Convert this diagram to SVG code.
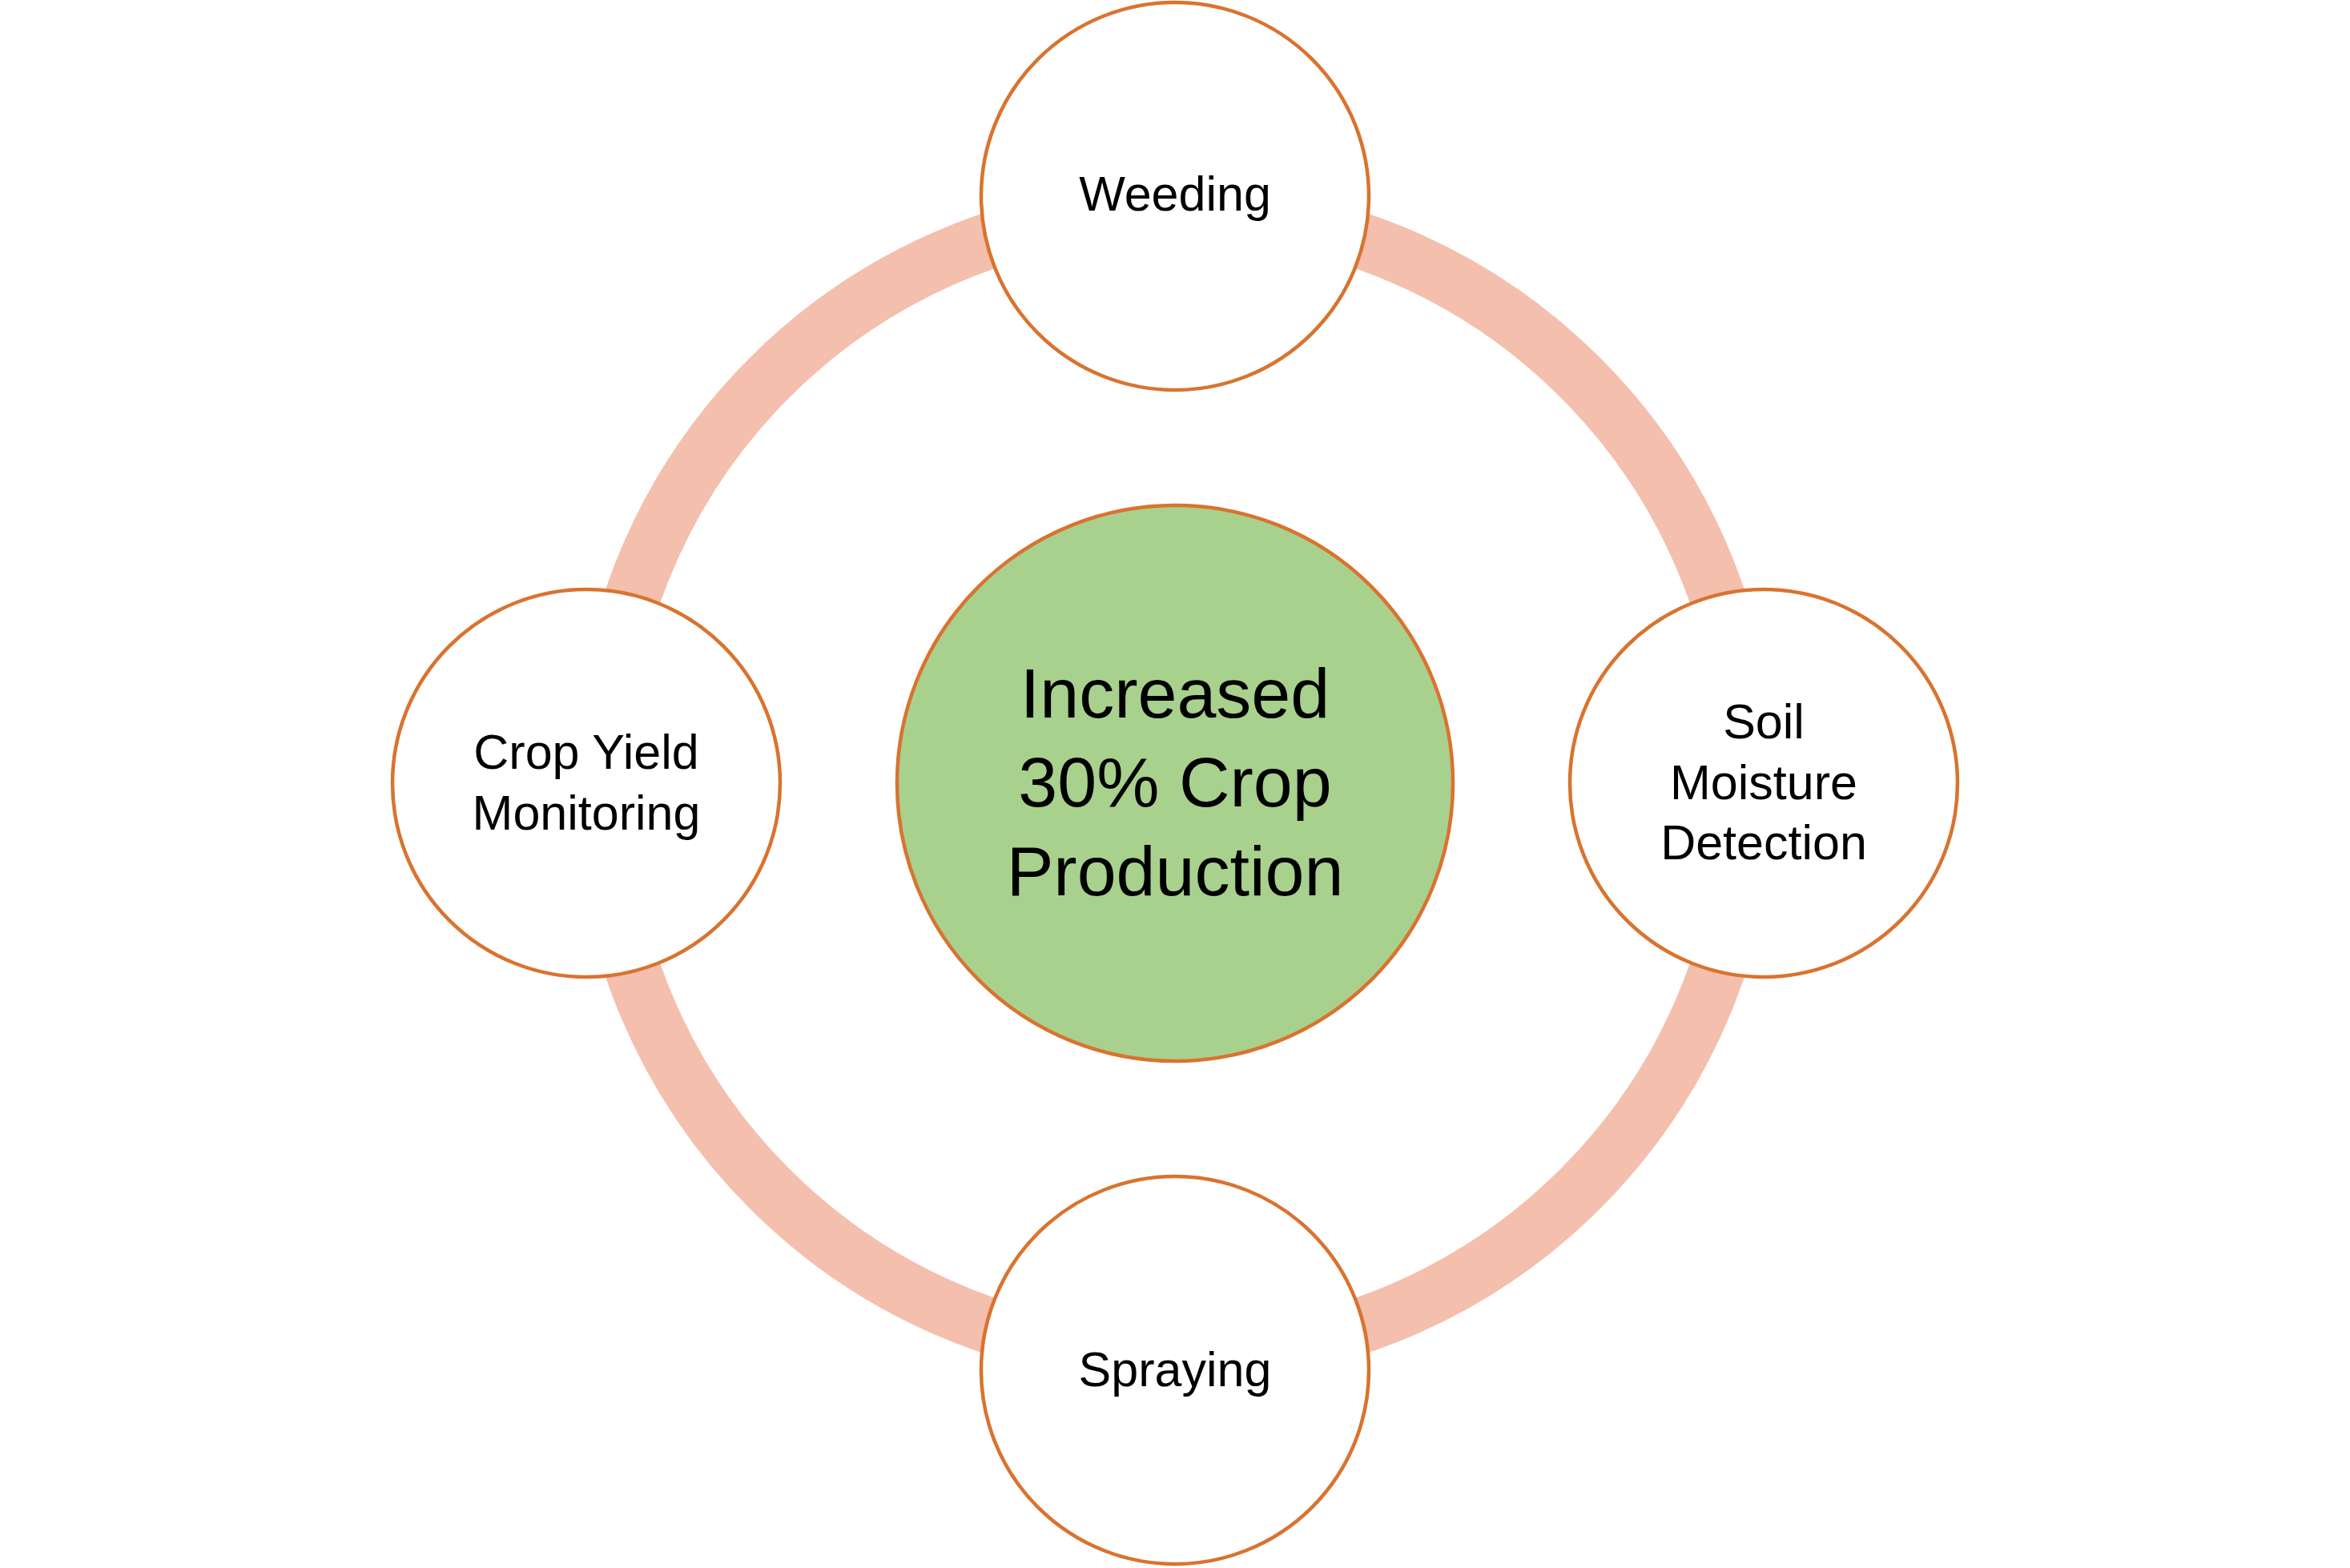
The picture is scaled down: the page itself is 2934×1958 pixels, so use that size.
<svg xmlns="http://www.w3.org/2000/svg" width="2934" height="1958" viewBox="0 0 2934 1958">
<style>
.node{fill:#FFFFFF;stroke:#D9732F;stroke-width:4.5}
.hub{fill:#A9D18E;stroke:#D9732F;stroke-width:4.5}
.lbl{font-family:"Liberation Sans",Arial,sans-serif;font-size:61px;fill:#000000;text-anchor:middle}
.hubl{font-family:"Liberation Sans",Arial,sans-serif;font-size:88px;fill:#000000;text-anchor:middle}
.ring{fill:none;stroke:#F4BFAD;stroke-width:70}
</style>
<rect width="2934" height="1958" fill="#FFFFFF"/>
<g id="connectors">
<circle class="ring" cx="1467" cy="978" r="716"/>
</g>
<g id="hub">
<circle class="hub" cx="1467" cy="978" r="347"/>
<text class="hubl" x="1467" y="896">Increased</text>
<text class="hubl" x="1467" y="1007">30% Crop</text>
<text class="hubl" x="1467" y="1118">Production</text>
</g>
<g id="weeding">
<circle class="node" cx="1467" cy="245" r="242"/>
<text class="lbl" x="1467" y="263">Weeding</text>
</g>
<g id="soil">
<circle class="node" cx="2202" cy="978" r="242"/>
<text class="lbl" x="2202" y="922">Soil</text>
<text class="lbl" x="2202" y="998">Moisture</text>
<text class="lbl" x="2202" y="1073">Detection</text>
</g>
<g id="spraying">
<circle class="node" cx="1467" cy="1711" r="242"/>
<text class="lbl" x="1467" y="1731">Spraying</text>
</g>
<g id="cropyield">
<circle class="node" cx="732" cy="978" r="242"/>
<text class="lbl" x="732" y="960">Crop Yield</text>
<text class="lbl" x="732" y="1036">Monitoring</text>
</g>
</svg>
